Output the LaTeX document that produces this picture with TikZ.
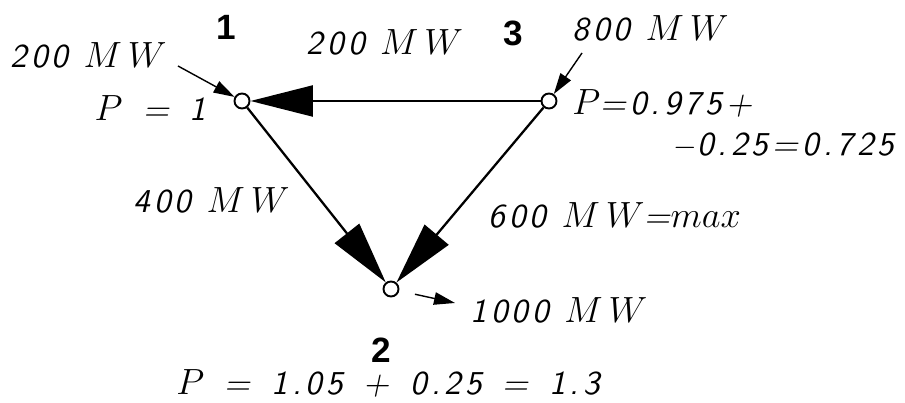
\documentclass[tikz,border=0pt]{standalone}
\usepackage{fontspec}
\usepackage{tikz}
\usetikzlibrary{arrows.meta,positioning}
\newfontfamily\cadfont{lmsans10-oblique.otf}[LetterSpace=12]
\newfontfamily\busfont{Liberation Sans}
\tikzset{
  bus/.style={circle,draw,line width=1.1pt,fill=white,minimum size=0.3cm,inner sep=0pt},
  busnum/.style={font=\busfont\bfseries\fontsize{20}{22}\selectfont,inner sep=0pt},
  vtxt/.style={font=\cadfont\fontsize{19}{21}\selectfont,inner sep=0pt},
  flow/.style={-{Triangle[length=1.25cm,width=0.62cm]},line width=1.3pt},
  inj/.style={-{Triangle[length=0.42cm,width=0.25cm]},line width=0.8pt}
}
\newcommand{\mw}{{\fontsize{21}{23}\selectfont$M\,W$}}
\newcommand{\pp}{{\fontsize{21}{23}\selectfont$P$}}
\begin{document}
\begin{tikzpicture}
  \useasboundingbox (0,0) rectangle (18.1,8.06);
  % buses
  \node[bus] (b1) at (4.84,6.04) {};
  \node[bus] (b3) at (10.98,6.04) {};
  \node[bus] (b2) at (7.82,2.28) {};
  \node[busnum] (l1) at (4.52,7.52) {1};
  \node[busnum] (l3) at (10.26,7.40) {3};
  \node[busnum] (l2) at (7.62,1.06) {2};
  % line flows
  \draw[flow] (b3) -- (b1);
  \draw[flow] (b1) -- (b2);
  \draw[flow] (b3) -- (b2);
  % injections
  \coordinate (g1) at (3.56,6.74);
  \coordinate (g3) at (11.64,7.00);
  \coordinate (d2) at (9.10,2.00);
  \draw[inj] (g1) -- (b1);
  \draw[inj] (g3) -- (b3);
  \draw[inj,shorten <=0.32cm] (b2) -- (d2);
  % labels
  \node[vtxt,anchor=west] (t1) at (0.2,6.96) {200 \mw};
  \node[vtxt,anchor=east] (p1) at (4.14,5.90) {\pp\ \,= \,1};
  \node[vtxt] (f13) at (7.70,7.22) {200 \mw};
  \node[vtxt,anchor=west] (t3) at (11.44,7.50) {800 \mw};
  \node[vtxt,anchor=west] (p3) at (11.44,6.00) {\pp=0.975+};
  \node[vtxt,anchor=east] (p3b) at (17.90,5.16) {$-$0.25=0.725};
  \node[vtxt,anchor=east] (f12) at (5.80,4.06) {400 \mw};
  \node[vtxt,anchor=west] (f32) at (9.76,3.76) {600 \mw={\fontsize{21}{23}\selectfont$max$}};
  \node[vtxt,anchor=west] (t2) at (9.40,1.86) {1000 \mw};
  \node[vtxt] (p2) at (7.76,0.40) {\pp\ \,= \,1.05 \,+ \,0.25 \,= \,1.3};
\end{tikzpicture}
\end{document}
